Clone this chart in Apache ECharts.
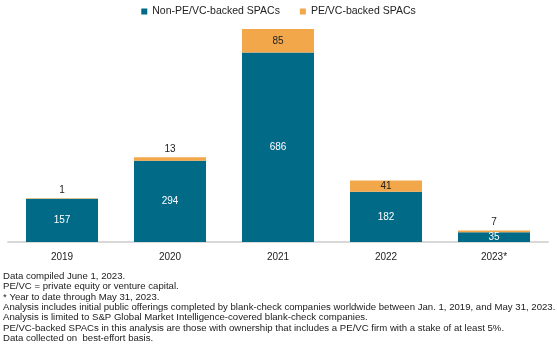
<!DOCTYPE html>
<html>
<head>
<meta charset="utf-8">
<script src="https://cdn.jsdelivr.net/npm/echarts@6/dist/echarts.min.js"></script>
<style>html,body{margin:0;padding:0;background:#fff}#c{width:557px;height:347px}</style>
</head>
<body>
<div id="c"></div>
<script>
const categories = ['2019', '2020', '2021', '2022', '2023*'];
const nonPeVc = [157, 294, 686, 182, 35];
const peVc = [1, 13, 85, 41, 7];
const seriesNames = ['Non-PE/VC-backed SPACs', 'PE/VC-backed SPACs'];
const footnotes = [
  'Data compiled June 1, 2023.',
  'PE/VC = private equity or venture capital.',
  '* Year to date through May 31, 2023.',
  'Analysis includes initial public offerings completed by blank-check companies worldwide between Jan. 1, 2019, and May 31, 2023.',
  'Analysis is limited to S&P Global Market Intelligence-covered blank-check companies.',
  'PE/VC-backed SPACs in this analysis are those with ownership that includes a PE/VC firm with a stake of at least 5%.',
  'Data collected on  best-effort basis.'
];

const FONT = '"Liberation Sans", Arial, sans-serif';
const chart = echarts.init(document.getElementById('c'), null, {renderer: 'canvas'});

const peData = peVc.map(v => ({
  value: v,
  label: v < 20
    ? {position: 'top', distance: 3, color: '#222'}
    : {position: 'inside', color: '#222'}
}));

const graphics = footnotes.map((t, i) => ({
  type: 'text',
  left: 3,
  top: 271 + i * 10.45,
  style: {text: t, font: '9.6px ' + FONT, fill: '#1a1a1a'}
}));

chart.setOption({
  animation: false,
  textStyle: {fontFamily: FONT},
  legend: {
    top: 1,
    left: 'center',
    itemWidth: 6,
    itemHeight: 6,
    itemGap: 20,
    icon: 'rect',
    textStyle: {fontSize: 10.5, color: '#222', fontFamily: FONT},
    data: seriesNames
  },
  grid: {left: 8, right: 9, top: 21, bottom: 105, containLabel: false},
  xAxis: {
    type: 'category',
    data: categories,
    axisLine: {lineStyle: {color: '#d9d9d9', width: 2}},
    axisTick: {show: false},
    axisLabel: {fontSize: 10, color: '#222', margin: 10, fontFamily: FONT}
  },
  yAxis: {
    type: 'value',
    min: 0,
    max: 800,
    show: false,
    splitLine: {show: false}
  },
  series: [
    {
      name: seriesNames[0],
      type: 'bar',
      stack: 'total',
      barWidth: '66.7%',
      itemStyle: {color: '#006A87'},
      label: {show: true, position: 'inside', color: '#fff', fontSize: 10, fontFamily: FONT},
      data: nonPeVc
    },
    {
      name: seriesNames[1],
      type: 'bar',
      stack: 'total',
      itemStyle: {color: '#F2A74B'},
      label: {show: true, fontSize: 10, fontFamily: FONT},
      data: peData
    }
  ],
  graphic: graphics
});
</script>
</body>
</html>
